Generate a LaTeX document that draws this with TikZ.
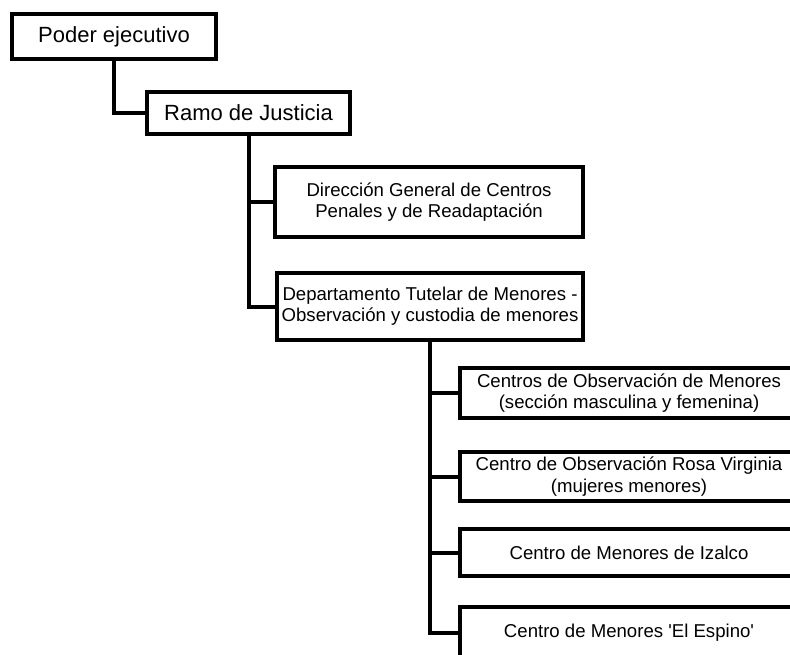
\documentclass[tikz,border=0pt]{standalone}
\usepackage{fontspec}
\setmainfont{Liberation Sans}
\usetikzlibrary{positioning, calc}

\begin{document}
\begin{tikzpicture}[x=0.5pt,y=-0.5pt, line join=miter,
  box/.style={draw, line width=2pt, align=center, inner sep=0pt, fill=white},
  bigbox/.style={box, font=\fontsize{11}{13}\selectfont},
  smallbox/.style={box, font=\fontsize{9.3}{10.6}\selectfont},
  link/.style={line width=2pt}]

\clip (0,0) rectangle (790,654);

\node[bigbox, minimum width=102pt, minimum height=22.5pt] (poder) at (114,36.5) {Poder ejecutivo};
\node[bigbox, minimum width=101.5pt, minimum height=21pt] (ramo) at (248.5,113) {Ramo de Justicia};

\node[smallbox, minimum width=154pt, minimum height=35pt] (direccion) at (429,202) {Direcci\'on General de Centros\\Penales y de Readaptaci\'on};
\node[smallbox, minimum width=153pt, minimum height=33.5pt] (tutelar) at (430,306.5) {Departamento Tutelar de Menores -\\Observaci\'on y custodia de menores};

\node[smallbox, minimum width=169pt, minimum height=25pt] (observacion) at (629,393) {Centros de Observaci\'on de Menores\\(secci\'on masculina y femenina)};
\node[smallbox, minimum width=169pt, minimum height=24.5pt] (rosa) at (629,476.5) {Centro de Observaci\'on Rosa Virginia\\(mujeres menores)};
\node[smallbox, minimum width=169pt, minimum height=23.5pt] (izalco) at (629,552.5) {Centro de Menores de Izalco};
\node[smallbox, minimum width=169pt, minimum height=25.5pt] (espino) at (629,632.5) {Centro de Menores \textquotesingle El Espino\textquotesingle};

\draw[link] (poder.south) |- (ramo.west);
\draw[link] (ramo.south) |- (direccion.west);
\draw[link] (ramo.south) |- (tutelar.west);
\draw[link] (tutelar.south) |- (observacion.west);
\draw[link] (tutelar.south) |- (rosa.west);
\draw[link] (tutelar.south) |- (izalco.west);
\draw[link] (tutelar.south) |- (espino.west);

\end{tikzpicture}
\end{document}
